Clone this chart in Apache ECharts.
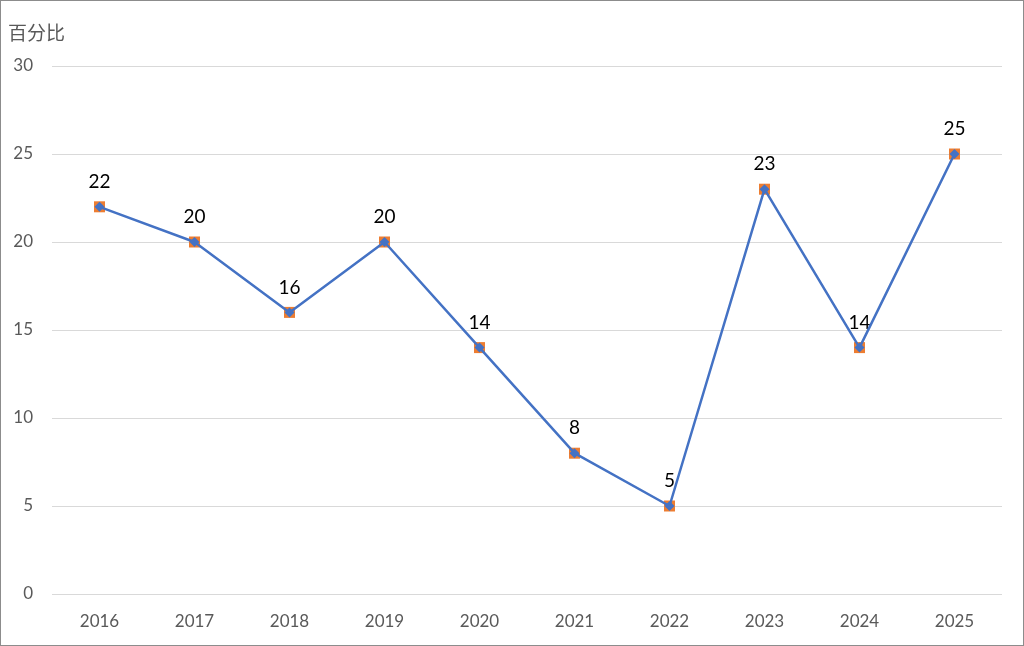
<!DOCTYPE html>
<html><head><meta charset="utf-8">
<script src="https://cdn.jsdelivr.net/npm/echarts@6/dist/echarts.min.js"></script>
<style>html,body{margin:0;padding:0;background:#fff}#c{width:1024px;height:646px;box-sizing:border-box;border:1px solid #8c8c8c}</style>
</head><body><div id="c"></div>
<script>
const categories = ['2016','2017','2018','2019','2020','2021','2022','2023','2024','2025'];
const values = [22,20,16,20,14,8,5,23,14,25];
const yName = '百分比';
const chart = echarts.init(document.getElementById('c'));
chart.setOption({
  animation:false,
  grid:{left:51,right:21,top:65,bottom:51},
  xAxis:{type:'category',data:categories,boundaryGap:true,
    axisLine:{show:false},axisTick:{show:false},
    axisLabel:{color:'#595959',fontSize:17,margin:19,fontFamily:'Lato, sans-serif'}},
  yAxis:{type:'value',min:0,max:30,interval:5,name:yName,
    nameLocation:'end',nameGap:24,
    nameTextStyle:{color:'#595959',fontSize:19,align:'left',padding:[0,0,0,-44],fontFamily:'"Noto Sans CJK SC", sans-serif'},
    axisLine:{show:false},axisTick:{show:false},
    axisLabel:{color:'#595959',fontSize:17,margin:19,fontFamily:'Lato, sans-serif'},
    splitLine:{lineStyle:{color:'#d9d9d9',width:1}}},
  series:[
    {type:'line',data:values,symbol:'rect',symbolSize:11,
     lineStyle:{width:0,opacity:0},itemStyle:{color:'#ed7d31'},z:2,
     label:{show:true,position:'top',distance:10,color:'#000',fontSize:19,fontFamily:'Lato, sans-serif'}},
    {type:'line',data:values,symbol:'diamond',symbolSize:10,
     lineStyle:{width:2.5,color:'#4472c4'},itemStyle:{color:'#4472c4'},z:3}
  ]
});
</script></body></html>
